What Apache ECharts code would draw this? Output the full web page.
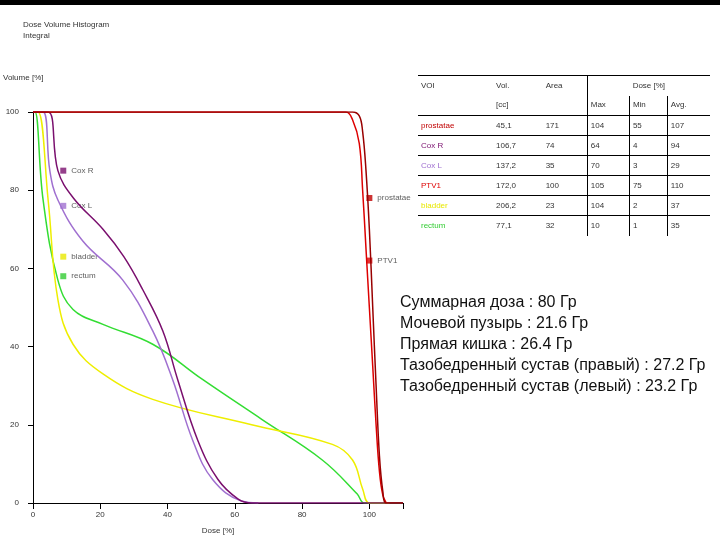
<!DOCTYPE html><html><head><meta charset="utf-8">
<script src="https://cdn.jsdelivr.net/npm/echarts@6/dist/echarts.min.js"></script>
<style>body{margin:0;background:#fff;font-family:"Liberation Sans",Arial,sans-serif}
#c{width:720px;height:540px;position:absolute;left:0;top:0}
#bar{position:absolute;left:0;top:0;width:720px;height:5px;background:#000}
table{position:absolute;left:418px;top:75px;border-collapse:collapse;font-size:8px;color:#333;width:292px}
td{height:20px;padding:0 3px;line-height:10px;box-sizing:border-box}
.ru{position:absolute;left:400px;top:291px;font-size:16px;line-height:21px;color:#111}
</style></head><body>
<div id="c"></div><div id="bar"></div>
<table id="t"></table>
<div class="ru" id="ru"></div>
<script>
const xTicks=[0,20,40,60,80,100];
const yTicks=[0,20,40,60,80,100];
const prostatae=[[0,100],[95,100],[97,99],[98,95],[99,85],[100,70],[101,50],[102,30],[103,12],[104,3],[105,0],[110,0]];
const ptv1=[[0,100],[93,100],[95,98],[97,92],[98,80],[99,65],[100,50],[101,35],[102,20],[103,8],[104,2],[105,0]];
const coxR=[[0,100],[4.5,100],[7.4,85],[12,78],[20.8,70],[27,63],[32.6,54.6],[38.6,44],[43,31.6],[49,16],[55,6],[61,1],[65,0],[110,0]];
const coxL=[[0,100],[3,100],[5,85],[7.4,77.5],[14.8,67],[26.7,57],[35.6,44],[41.5,31.6],[47.5,16],[53.4,6],[62,0.5],[67,0]];
const bladder=[[0,100],[1.5,100],[4.5,77.5],[7.4,52],[11.9,40.6],[20.8,33],[35.6,26.5],[65,20],[89,15],[95,11],[98,3.6],[100,0],[106,0]];
const rectum=[[0,100],[0.6,100],[3,77.5],[7.4,57],[11.9,49.5],[20.8,45.7],[35.6,40.6],[50.4,31.6],[68,21.4],[86,11],[96.4,2.3],[98.5,0],[110,0]];
const labels=[["Cox R",9,85,"#7a0f6e"],["Cox L",9,76,"#a070d0"],["bladder",9,63,"#e8e800"],["rectum",9,58,"#33cc33"],["prostatae",100,78,"#c00000"],["PTV1",100,62,"#dd0000"]];
const rows=[["VOI","Vol.","Area","Dose [%]","",""],["","[cc]","","Max","Min","Avg."],
["prostatae","45,1","171","104","55","107"],["Cox R","106,7","74","64","4","94"],["Cox L","137,2","35","70","3","29"],
["PTV1","172,0","100","105","75","110"],["bladder","206,2","23","104","2","37"],["rectum","77,1","32","10","1","35"]];
const rowColors=["#333","#333","#c00000","#7a0f6e","#a070d0","#dd0000","#e8e800","#33cc33"];
const ruText=["Суммарная доза : 80 Гр","Мочевой пузырь : 21.6 Гр","Прямая кишка : 26.4 Гр","Тазобедренный сустав (правый) : 27.2 Гр","Тазобедренный сустав (левый) : 23.2 Гр"];
document.getElementById('ru').innerHTML=ruText.join('<br>');
let h='';rows.forEach((r,i)=>{h+='<tr style="border-top:'+(i==1?'none':'1px solid #000')+'">';r.forEach((c,j)=>{
 if(i==0&&j==3){h+='<td colspan="3" style="text-align:center;border-left:1px solid #000">'+c+'</td>';return;}
 if(i==0&&j>3)return;
 h+='<td style="color:'+(j==0?rowColors[i]:'#333')+';'+(j==3?'border-left:1px solid #000;':'')+(j>3&&i>0?'border-left:1px solid #000;':'')+'">'+c+'</td>';});h+='</tr>';});
document.getElementById('t').innerHTML=h;
const ch=echarts.init(document.getElementById('c'));
const ln=(d,c,w)=>({type:'line',data:d,showSymbol:false,smooth:0.4,lineStyle:{color:c,width:w||1.5},itemStyle:{color:c}});
ch.setOption({animation:false,
 title:{text:'Dose Volume Histogram\nIntegral',left:18,top:14,textStyle:{fontSize:8,fontWeight:'normal',color:'#333',lineHeight:11}},
 grid:{left:30,right:317,top:112,bottom:36},
 xAxis:{type:'value',min:0,max:110,interval:20,name:'Dose [%]',nameLocation:'middle',nameGap:24,nameTextStyle:{fontSize:8,color:'#333'},
  axisLine:{lineStyle:{color:'#000'}},axisTick:{length:6,inside:false},splitLine:{show:false},
  axisLabel:{fontSize:8,color:'#333',formatter:v=>xTicks.includes(v)?v:''}},
 yAxis:{type:'value',min:0,max:100,interval:20,name:'Volume [%]',nameLocation:'end',nameGap:30,nameTextStyle:{fontSize:8,color:'#333',align:'left',padding:[0,0,0,-30]},
  axisLine:{show:true,lineStyle:{color:'#000'}},axisTick:{show:true},splitLine:{show:false},
  axisLabel:{fontSize:8,color:'#333',margin:14,formatter:v=>yTicks.includes(v)?v:''}},
 series:[ln(rectum,'#33dd33'),ln(bladder,'#eeee00'),ln(coxL,'#a070d0'),ln(coxR,'#7a0f6e'),ln(ptv1,'#dd0000'),ln(prostatae,'#990000'),
  {type:'scatter',symbol:'rect',symbolSize:6,data:labels.map(l=>({value:[l[1],l[2]],itemStyle:{color:l[3]},label:{show:true,position:'right',formatter:l[0],fontSize:8,color:'#333'}}))}]
});
</script></body></html>
